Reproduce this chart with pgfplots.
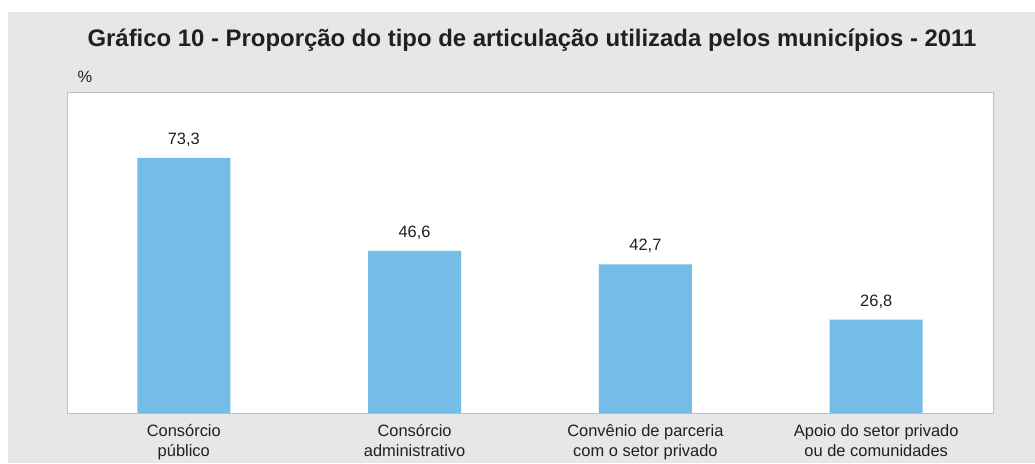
\documentclass[border=0pt]{standalone}
\usepackage{pgfplots}
\pgfplotsset{compat=1.18}
\usepackage{fontspec}
\setmainfont{Liberation Sans}
\definecolor{bg}{HTML}{E6E7E9}
\definecolor{barc}{HTML}{74BDE8}
\definecolor{framec}{HTML}{C0C0C0}
\definecolor{txt}{HTML}{231F20}
\begin{document}
\begin{tikzpicture}[x=1bp,y=1bp]
\fill[white] (0,0) rectangle (1035,-463);
\fill[bg] (8,-12) rectangle (1035,-463);
\node[font=\bfseries\fontsize{24}{28}\selectfont, text=txt] at (532,-40) {Gráfico 10 - Proporção do tipo de articulação utilizada pelos municípios - 2011};
\node[font=\fontsize{16.5}{19}\selectfont, text=txt] at (85,-77) {\%};
\begin{axis}[
  at={(67bp,-413bp)}, anchor=south west,
  scale only axis, width=926bp, height=321bp,
  ymin=0, ymax=92.2, xmin=-0.506, xmax=3.506,
  axis background/.style={fill=white},
  axis line style={framec, line width=1pt},
  ytick=\empty,
  xtick={0,1,2,3},
  xticklabels={{Consórcio\\público},{Consórcio\\administrativo},{Convênio de parceria\\com o setor privado},{Apoio do setor privado\\ou de comunidades}},
  xtick style={draw=none},
  xticklabel style={align=center, font=\fontsize{16.5}{19.5}\selectfont, text=txt, yshift=-4bp},
  ybar, bar width=93bp,
  nodes near coords,
  every node near coord/.append style={font=\fontsize{16.5}{19}\selectfont, text=txt, yshift=8bp},
  /pgf/number format/.cd, use comma, fixed, fixed zerofill, precision=1, assume math mode=true,
]
\addplot[draw=none, fill=barc] coordinates {(0,73.3) (1,46.6) (2,42.7) (3,26.8)};
\end{axis}
\end{tikzpicture}
\end{document}
